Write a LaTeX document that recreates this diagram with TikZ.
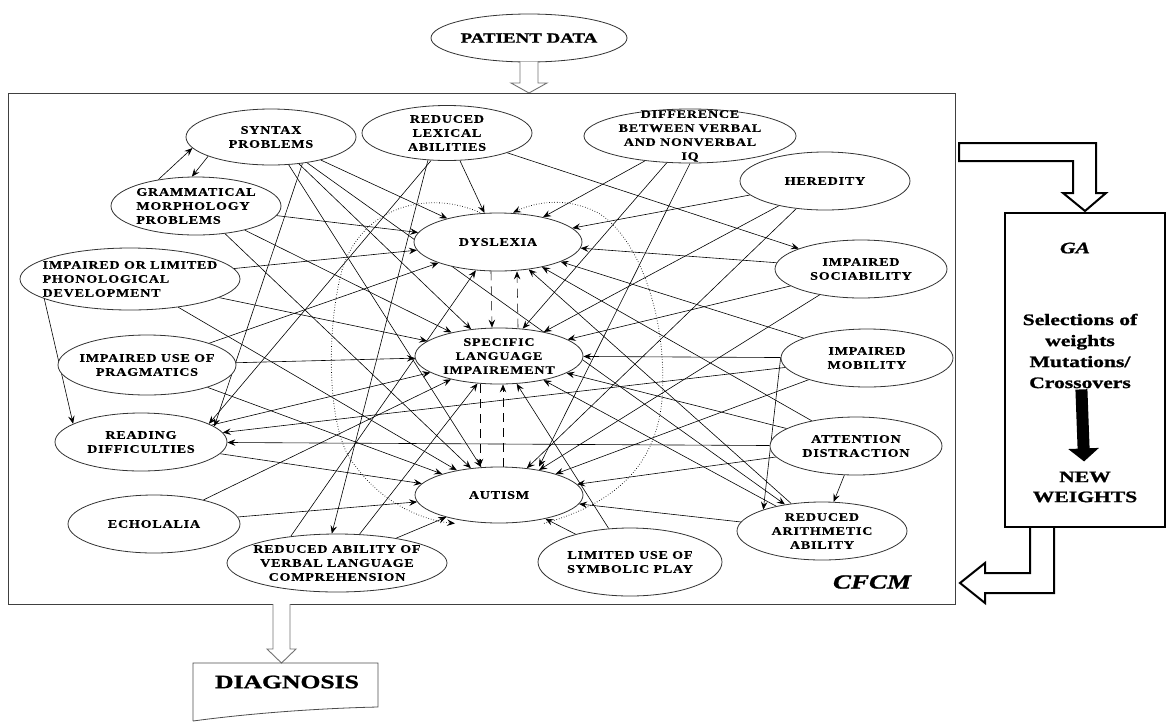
\documentclass[tikz,border=0pt]{standalone}
\usepackage{fontspec}
\newfontfamily\cellfont[FakeStretch=1.22,LetterSpace=7,FakeBold=0.6]{Liberation Serif}
\newfontfamily\boxfont[FakeStretch=1.35,FakeBold=1.2]{Liberation Serif}
\usetikzlibrary{arrows.meta,shapes.geometric,backgrounds}

\tikzset{
  cell/.style args={#1/#2}{ellipse, draw=black!80, line width=0.8pt, fill=white,
    minimum width=#1pt, minimum height=#2pt, inner sep=0pt},
  lbl/.style={align=center, inner sep=0pt,
    font=\cellfont\bfseries\fontsize{11.5}{14}\selectfont},
  link/.style={-{Stealth[length=8pt,width=6.5pt,inset=3pt]}, line width=0.6pt},
  dashlink/.style={link, dash pattern=on 9pt off 6pt},
  dotlink/.style={link, dotted, line width=0.8pt},
  hollow/.style={draw=black!55, line width=0.9pt, fill=white},
  fat/.style={draw=black, line width=2pt, fill=white, line join=miter},
  boxtxt/.style={inner sep=0pt, align=center, font=\boxfont\bfseries\fontsize{16}{21}\selectfont},
}

\begin{document}
\begin{tikzpicture}[x=1pt, y=-1pt]
\useasboundingbox (0,0) rectangle (1170,721);

% Patient data and input arrow
\node[cell=196/48, label={[lbl, font=\boxfont\bfseries\fontsize{14}{16}\selectfont]center:PATIENT DATA}] (pdata) at (529,38) {};
\draw[hollow] (520,62) -- (520,83) -- (511,83) -- (529,93) -- (547,83) -- (538,83) -- (538,62);

% CFCM frame
\node[draw=black!75, line width=1pt, minimum width=947pt, minimum height=511pt, inner sep=0pt] (cfcm) at (481.5,348.5) {};
\node[font=\boxfont\bfseries\itshape\fontsize{20}{24}\selectfont, inner sep=0pt] (cfcmT) at (872,582) {CFCM};

% Concepts
\node[cell=170/56, label={[lbl]center:SYNTAX\\PROBLEMS}] (syn) at (271,137) {};
\node[cell=170/55, label={[lbl]center:REDUCED\\LEXICAL\\ABILITIES}] (lex) at (447,133) {};
\node[cell=212/54, label={[lbl]center:DIFFERENCE\\BETWEEN VERBAL\\AND NONVERBAL\\IQ}] (diff) at (690,136) {};
\node[cell=170/58, label={[lbl]center:HEREDITY}] (her) at (825,181) {};
\node[cell=170/58, label={[lbl, align=left]center:GRAMMATICAL\\MORPHOLOGY\\PROBLEMS}] (gram) at (196,206) {};
\node[cell=168/58, label={[lbl]center:DYSLEXIA}] (dys) at (498,242) {};
\node[cell=172/58, label={[lbl]center:IMPAIRED\\SOCIABILITY}] (soc) at (861,269) {};
\node[cell=220/62, label={[lbl, align=left]center:IMPAIRED OR LIMITED\\PHONOLOGICAL\\DEVELOPMENT}] (phon) at (130,279) {};
\node[cell=168/56, label={[lbl]center:SPECIFIC\\LANGUAGE\\IMPAIREMENT}] (sli) at (499,356) {};
\node[cell=178/60, label={[lbl]center:IMPAIRED USE OF\\PRAGMATICS}] (prag) at (147,365) {};
\node[cell=172/58, label={[lbl]center:IMPAIRED\\MOBILITY}] (mob) at (867,358) {};
\node[cell=172/58, label={[lbl]center:READING\\DIFFICULTIES}] (read) at (141,442) {};
\node[cell=172/58, label={[lbl]center:ATTENTION\\DISTRACTION}] (att) at (856,446) {};
\node[cell=168/56, label={[lbl]center:AUTISM}] (aut) at (499,495) {};
\node[cell=172/58, label={[lbl]center:ECHOLALIA}] (echo) at (154,524) {};
\node[cell=170/58, label={[lbl]center:REDUCED\\ARITHMETIC\\ABILITY}] (arith) at (822,531) {};
\node[cell=220/58, label={[lbl]center:REDUCED ABILITY OF\\VERBAL LANGUAGE\\COMPREHENSION}] (verb) at (337,563) {};
\node[cell=184/68, label={[lbl]center:LIMITED USE OF\\SYMBOLIC PLAY}] (play) at (630,562) {};

% Causal links
\begin{scope}[on background layer]
  \foreach \s/\t in {syn/dys, lex/dys, diff/dys, her/dys, gram/dys, phon/dys, prag/dys,
      soc/dys, mob/dys, att/dys, arith/dys,
      syn/sli, diff/sli, her/sli, gram/sli, phon/sli, prag/sli, read/sli, soc/sli,
      mob/sli, att/sli, arith/sli, echo/sli, verb/sli, play/sli,
      syn/aut, her/aut, gram/aut, phon/aut, prag/aut, read/aut, soc/aut, mob/aut,
      att/aut, arith/aut, echo/aut, verb/aut, play/aut,
      mob/read, att/read, lex/soc, syn/arith, att/arith}
    \draw[link] (\s) -- (\t);
  \draw[link] (diff.south) -- ([xshift=40pt]aut.north);
  \draw[link] (verb.150) -- (dys.232);
  \draw[link] (syn.320) -- (read.12);
  \draw[link] (lex.240) -- (read.15);
  \draw[link] (lex.235) -- (verb.100);
  \draw[link] (mob.west) -- (arith.160);
  \draw[link] (gram.145) -- (syn.188);
  \draw[link] (syn.197) -- (gram.98);
  \draw[link] (phon.193) -- (read.165);
  % disorders among themselves
  \draw[dashlink] ([xshift=-7pt]dys.south) -- ([xshift=-7pt]sli.north);
  \draw[dashlink] ([xshift=19pt]sli.north) -- ([xshift=19pt]dys.south);
  \draw[dashlink] ([xshift=-19pt]sli.south) -- ([xshift=-19pt]aut.north);
  \draw[dashlink] ([xshift=4pt]aut.north) -- ([xshift=4pt]sli.south);
  \draw[dotlink] ([xshift=-18pt]dys.north) .. controls (430,190) and (362,205) .. (342,270)
    .. controls (326,330) and (328,420) .. (348,455)
    .. controls (375,500) and (420,520) .. ([xshift=-44pt]aut.south);
  \draw[dotlink] ([xshift=45pt]aut.south) .. controls (620,502) and (656,462) .. (662,400)
    .. controls (668,320) and (640,240) .. (600,214)
    .. controls (572,198) and (540,200) .. ([xshift=15pt]dys.north);
\end{scope}

% GA block and loop arrows
\node[draw, line width=2.4pt, minimum width=160pt, minimum height=314pt, inner sep=0pt] (ga) at (1085,370) {};
\draw[fat] (959,143) -- (1096,143) -- (1096,193) -- (1106,193) -- (1085,211) -- (1063,193)
  -- (1073,193) -- (1073,161) -- (959,161) -- cycle;
\draw[fat] (1030,528) -- (1030,573) -- (985,573) -- (985,563) -- (960,583) -- (985,603)
  -- (985,593) -- (1054,593) -- (1054,528);
\node[boxtxt, font=\boxfont\bfseries\itshape\fontsize{16}{20}\selectfont] (gaT) at (1075,248) {GA};
\node[boxtxt] (sel) at (1080,351) {Selections of\\weights\\Mutations/\\Crossovers};
\node[boxtxt, font=\boxfont\bfseries\fontsize{16}{20}\selectfont] (wts) at (1085,487) {NEW\\WEIGHTS};
\draw[line width=12pt, -{Triangle[length=13pt,width=30pt]}, shorten <=1pt, shorten >=10pt] (sel) -- (wts);

% Output
\draw[hollow] (273,604) -- (273,649) -- (267,649) -- (281.5,663) -- (296,649) -- (290,649) -- (290,604);
\draw[draw=black!70, line width=0.8pt] (193,721) -- (193,663) -- (378,663) -- (378,707)
  .. controls (330,708) and (260,712) .. (193,721);
\node[font=\boxfont\bfseries\fontsize{19}{22}\selectfont, inner sep=0pt] (diag) at (287,682) {DIAGNOSIS};
\end{tikzpicture}
\end{document}
